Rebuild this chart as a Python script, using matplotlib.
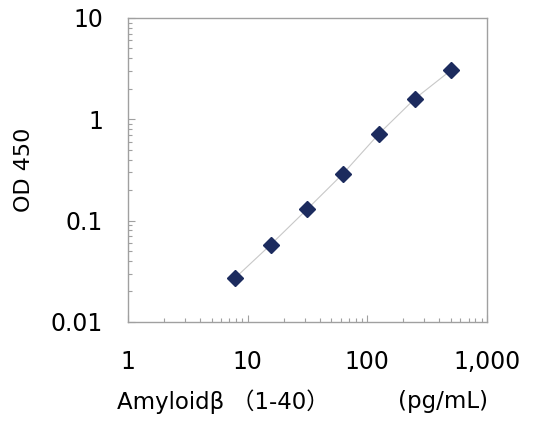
import numpy as np
import matplotlib.pyplot as plt
from matplotlib.ticker import FixedLocator, LogLocator, NullFormatter

plt.rcParams['font.family'] = ['DejaVu Sans', 'Noto Sans CJK JP']

# Standard curve data
conc = [7.8, 15.6, 31.25, 62.5, 125, 250, 500]   # pg/mL
od450 = [0.027, 0.058, 0.129, 0.29, 0.72, 1.6, 3.05]

x_ticks = [1, 10, 100, 1000]
x_labels = ['1', '10', '100', '1,000']
y_ticks = [0.01, 0.1, 1, 10]
y_labels = ['0.01', '0.1', '1', '10']

fig = plt.figure(figsize=(5.44, 4.24), dpi=100)
ax = fig.add_axes([0.2353, 0.2406, 0.66, 0.717])

ax.plot(conc, od450, color='#c8c8c8', lw=0.8, zorder=1)
ax.plot(conc, od450, ls='none', marker='D', ms=8, color='#1c2b5e', zorder=2)

ax.set_xscale('log')
ax.set_yscale('log')
ax.set_xlim(1, 1000)
ax.set_ylim(0.01, 10)

ax.xaxis.set_major_locator(FixedLocator(x_ticks))
ax.set_xticklabels(x_labels)
ax.xaxis.set_minor_locator(LogLocator(base=10, subs=np.arange(2, 10)))
ax.xaxis.set_minor_formatter(NullFormatter())
ax.yaxis.set_major_locator(FixedLocator(y_ticks))
ax.set_yticklabels(y_labels)
ax.yaxis.set_minor_locator(LogLocator(base=10, subs=np.arange(2, 10)))
ax.yaxis.set_minor_formatter(NullFormatter())

for s in ax.spines.values():
    s.set_color('#a0a0a0')
    s.set_linewidth(1.0)

ax.tick_params(which='both', direction='in', color='#a0a0a0', width=0.8)
ax.tick_params(which='major', length=5, labelsize=17, colors='#a0a0a0', labelcolor='black')
ax.tick_params(which='minor', length=3)
ax.tick_params(axis='x', which='major', pad=20)
ax.tick_params(axis='y', which='major', pad=18)

ax.set_ylabel('OD 450', fontsize=16, labelpad=12)
ax.text(-0.031, -0.263, 'Amyloidβ （1-40）', transform=ax.transAxes,
        fontsize=16.5, ha='left', va='center')
ax.text(0.752, -0.263, '(pg/mL)', transform=ax.transAxes,
        fontsize=16.5, ha='left', va='center')

fig.savefig('out.png', dpi=100)
